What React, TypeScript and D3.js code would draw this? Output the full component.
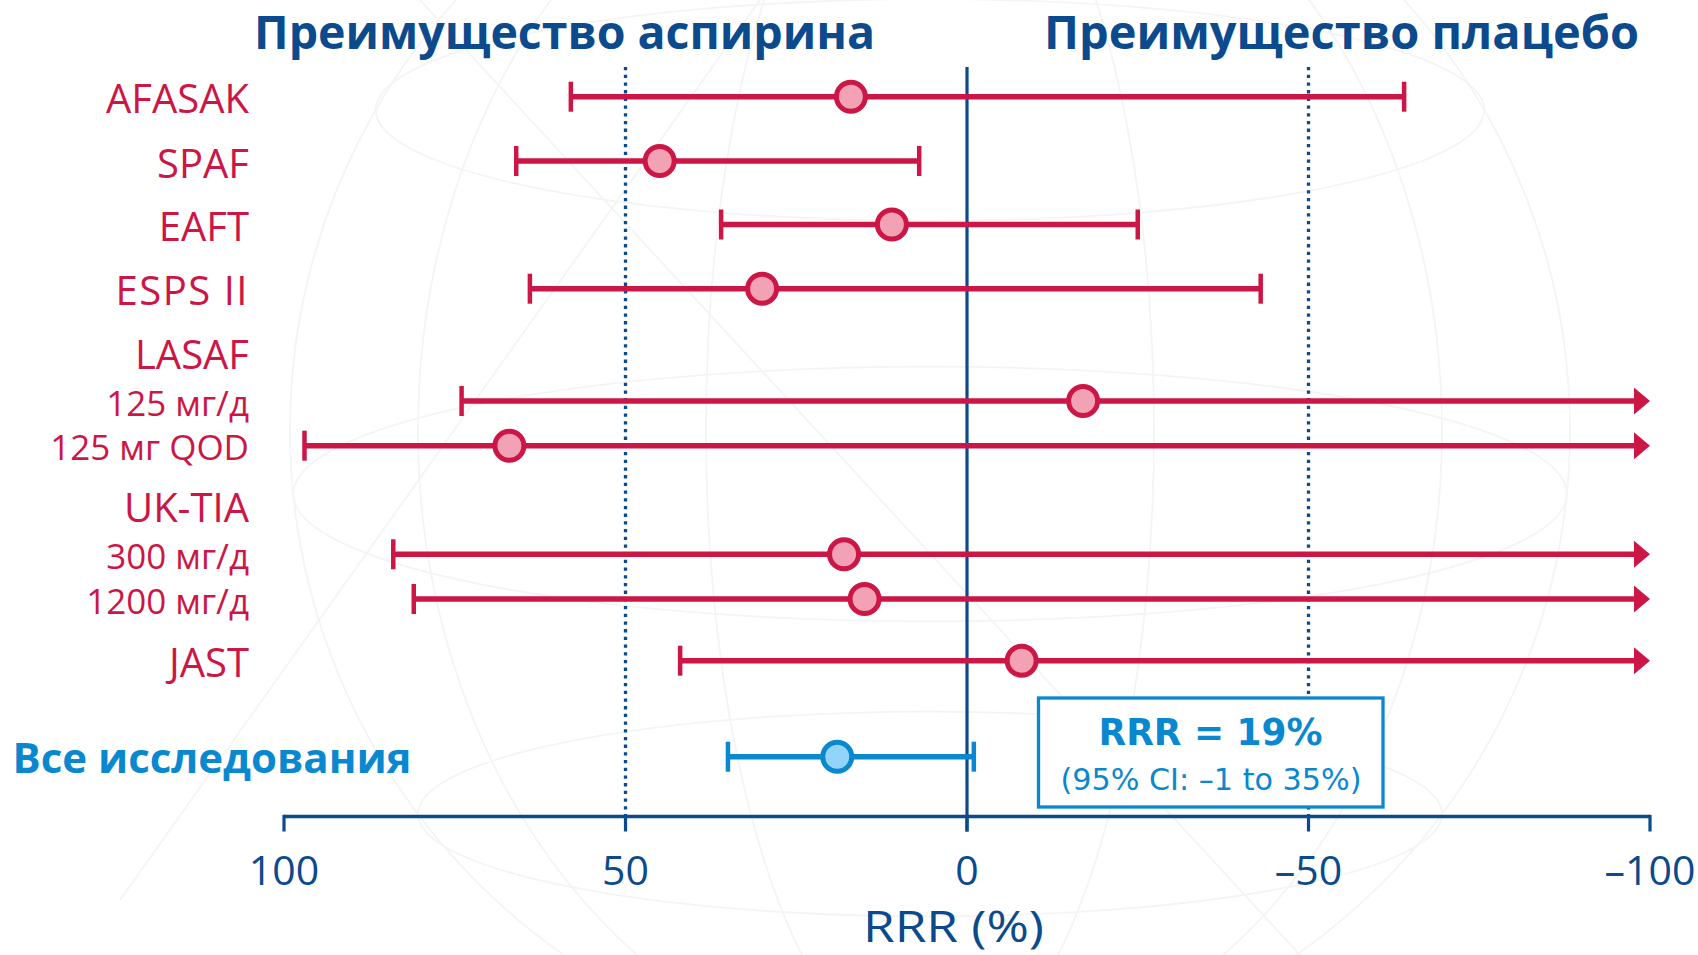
import React from "react";
import * as d3 from "d3";

// ---- Data: relative risk reduction (%) of aspirin vs placebo with 95% CI ----
const studies = [
  "AFASAK",
  "SPAF",
  "EAFT",
  "ESPS II",
  "LASAF 125 мг/д",
  "LASAF 125 мг QOD",
  "UK-TIA 300 мг/д",
  "UK-TIA 1200 мг/д",
  "JAST",
  "Все исследования",
];
const rowLabels = [
  "AFASAK",
  "SPAF",
  "EAFT",
  "ESPS II",
  "125 мг/д",
  "125 мг QOD",
  "300 мг/д",
  "1200 мг/д",
  "JAST",
  "Все исследования",
];
const rrrPoint = [17, 45, 11, 30, -17, 67, 18, 15, -8, 19];
// CI bound on the aspirin side (left of zero)
const ciAspirin = [58, 66, 36, 64, 74, 97, 84, 81, 42, 35];
// CI bound on the placebo side; null = runs past the end of the axis
const ciPlacebo: (number | null)[] = [-64, 7, -25, -43, null, null, null, null, null, -1];
const groupHeaders = ["LASAF", "UK-TIA"];
const xTicks = [100, 50, 0, -50, -100];
const xTickLabels = ["100", "50", "0", "–50", "–100"];
const dottedRefs = [50, -50];
const pooledText = "RRR = 19%";
const pooledCiText = "(95% CI: –1 to 35%)";

// ---- Layout ----
const W = 1698;
const H = 955;
const rowY = [96.7, 161, 224.5, 288.7, 401, 445.7, 554.3, 599, 660.7, 756.7];
const headerY = [355, 508];
const subRows = new Set([4, 5, 6, 7]);
const PLOT_TOP = 67;
const AXIS_Y = 816.5;
const LABEL_RIGHT = 249;

const NAVY = "#0b4a8c";
const RED = "#cc1646";
const PINK = "#f3a1b4";
const BLUE = "#0a88cf";
const LIGHT_BLUE = "#93d5f9";
const GLOBE = "#f4f4f4";

const x = d3.scaleLinear().domain([100, -100]).range([284, 1650]);
const y = d3.scaleOrdinal<string, number>().domain(studies).range(rowY);

const LABEL_FONT = "'Open Sans', 'Noto Sans', sans-serif";
const BOX_FONT = "'DejaVu Sans', Verdana, sans-serif";

function Globe() {
  // faint decorative globe behind the plot
  const cx = 930;
  const cy = 430;
  const r = 640;
  const lats = [-0.5, 0.1, 0.6];
  const mers = [0.35, 0.8];
  return (
    <g fill="none" stroke={GLOBE} strokeWidth={1.8}>
      <circle cx={cx} cy={cy} r={r} />
      {lats.map((t, i) => {
        const yy = cy + t * r;
        const half = Math.sqrt(1 - t * t) * r;
        return <ellipse key={"l" + i} cx={cx} cy={yy} rx={half} ry={half * 0.2} />;
      })}
      {mers.map((t, i) => (
        <ellipse key={"m" + i} cx={cx} cy={cy} rx={t * r} ry={r} />
      ))}
      <line x1={120} y1={900} x2={760} y2={0} />
      <line x1={420} y1={0} x2={1300} y2={955} />
    </g>
  );
}

export default function App() {
  const arrowW = 16;
  const arrowH = 27;
  return (
    <svg
      width={W}
      height={H}
      viewBox={`0 0 ${W} ${H}`}
      style={{ position: "absolute", left: 0, top: 0, display: "block", background: "#fff" }}
    >
      <Globe />

      {/* headings */}
      <text
        x={254}
        y={49}
        fontFamily={LABEL_FONT}
        fontWeight={700}
        fontSize={46}
        fill={NAVY}
        textLength={621}
        lengthAdjust="spacingAndGlyphs"
      >
        Преимущество аспирина
      </text>
      <text
        x={1044}
        y={49}
        fontFamily={LABEL_FONT}
        fontWeight={700}
        fontSize={46}
        fill={NAVY}
        textLength={595}
        lengthAdjust="spacingAndGlyphs"
      >
        Преимущество плацебо
      </text>

      {/* reference lines */}
      {dottedRefs.map((v) => (
        <line
          key={v}
          x1={x(v)}
          x2={x(v)}
          y1={PLOT_TOP}
          y2={AXIS_Y}
          stroke={NAVY}
          strokeWidth={3.3}
          strokeDasharray="3.3 4.4"
        />
      ))}
      <line x1={x(0)} x2={x(0)} y1={PLOT_TOP} y2={AXIS_Y + 15} stroke={NAVY} strokeWidth={3.2} />

      {/* x axis */}
      <line x1={x(100)} x2={x(-100)} y1={AXIS_Y} y2={AXIS_Y} stroke={NAVY} strokeWidth={3.5} />
      {xTicks.map((v, i) => (
        <g key={v}>
          <line
            x1={x(v)}
            x2={x(v)}
            y1={AXIS_Y - 1.7}
            y2={AXIS_Y + 15}
            stroke={NAVY}
            strokeWidth={3.2}
          />
          <text
            x={x(v)}
            y={885}
            textAnchor="middle"
            fontFamily={LABEL_FONT}
            fontSize={41}
            fill={NAVY}
          >
            {xTickLabels[i]}
          </text>
        </g>
      ))}
      <text
        x={953.5}
        y={942}
        textAnchor="middle"
        fontFamily={LABEL_FONT}
        fontSize={43}
        fill={NAVY}
        textLength={181}
        lengthAdjust="spacingAndGlyphs"
      >
        RRR (%)
      </text>

      {/* pooled estimate box */}
      <rect
        x={1038.5}
        y={698}
        width={344.5}
        height={109}
        fill="#fff"
        stroke={BLUE}
        strokeWidth={3.3}
      />
      <text
        x={1210.5}
        y={745}
        textAnchor="middle"
        fontFamily={BOX_FONT}
        fontWeight={700}
        fontSize={37}
        fill={BLUE}
        textLength={224}
        lengthAdjust="spacingAndGlyphs"
      >
        {pooledText}
      </text>
      <text
        x={1211}
        y={790}
        textAnchor="middle"
        fontFamily={BOX_FONT}
        fontSize={30}
        fill={BLUE}
        textLength={301}
        lengthAdjust="spacingAndGlyphs"
      >
        {pooledCiText}
      </text>

      {/* group headers */}
      {groupHeaders.map((g, i) => (
        <text
          key={g}
          x={LABEL_RIGHT}
          y={headerY[i] + 13.5}
          textAnchor="end"
          fontFamily={LABEL_FONT}
          fontSize={40}
          fill={RED}
        >
          {g}
        </text>
      ))}

      {/* study rows */}
      {studies.map((s, i) => {
        const pooled = i === studies.length - 1;
        const stroke = pooled ? BLUE : RED;
        const fill = pooled ? LIGHT_BLUE : PINK;
        const cy = y(s);
        const x0 = x(ciAspirin[i]);
        const hi = ciPlacebo[i];
        const x1 = hi === null ? x(-100) - arrowW + 2 : x(hi);
        const sub = subRows.has(i);
        return (
          <g key={s}>
            {pooled ? (
              <text
                x={12.5}
                y={cy + 16.6}
                fontFamily={LABEL_FONT}
                fontWeight={700}
                fontSize={41}
                fill={BLUE}
                textLength={399}
                lengthAdjust="spacingAndGlyphs"
              >
                {rowLabels[i]}
              </text>
            ) : (
              <text
                x={LABEL_RIGHT}
                y={cy + (sub ? 14.5 : 16.5)}
                textAnchor="end"
                fontFamily={LABEL_FONT}
                fontSize={sub ? 35 : 40}
                letterSpacing={rowLabels[i] === "ESPS II" ? 1.5 : 0}
                fill={RED}
              >
                {rowLabels[i]}
              </text>
            )}
            <line x1={x0} x2={x1} y1={cy} y2={cy} stroke={stroke} strokeWidth={5.5} />
            <line x1={x0} x2={x0} y1={cy - 15} y2={cy + 15} stroke={stroke} strokeWidth={4.5} />
            {hi === null ? (
              <path
                d={`M${x(-100)},${cy} L${x(-100) - arrowW},${cy - arrowH / 2} L${x(-100) - arrowW},${cy + arrowH / 2} Z`}
                fill={stroke}
              />
            ) : (
              <line x1={x1} x2={x1} y1={cy - 15} y2={cy + 15} stroke={stroke} strokeWidth={4.5} />
            )}
            <circle
              cx={x(rrrPoint[i])}
              cy={cy}
              r={14.5}
              fill={fill}
              stroke={stroke}
              strokeWidth={5}
            />
          </g>
        );
      })}
    </svg>
  );
}
